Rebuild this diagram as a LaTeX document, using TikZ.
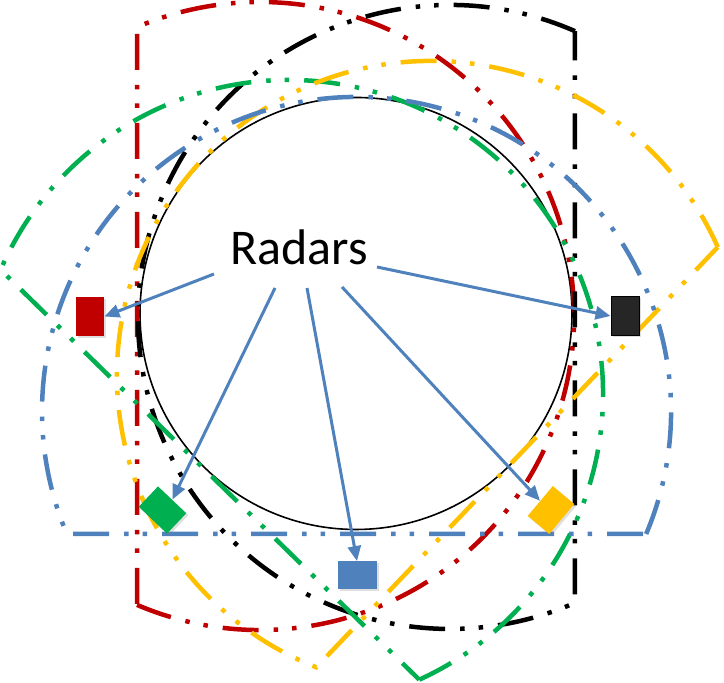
\documentclass[tikz,border=0pt]{standalone}
\usepackage{fontspec}
\newfontfamily\carlito{Carlito}
\usetikzlibrary{arrows.meta,calc,shadows}

\definecolor{radarred}{HTML}{C00000}
\definecolor{radarblack}{HTML}{262626}
\definecolor{radargreen}{HTML}{00B050}
\definecolor{radaryellow}{HTML}{FFC000}
\definecolor{radarblue}{HTML}{4F81BD}

\tikzset{
  cover/.style={line width=2.25pt, dash pattern=on 18pt off 7.5pt on 2.25pt off 7pt on 2.25pt off 7.5pt},
  radar/.style={rectangle, minimum width=14pt, minimum height=19.5pt, inner sep=0pt,
    drop shadow={shadow xshift=1pt, shadow yshift=-1pt, opacity=0.25}},
  ray/.style={draw=radarblue, line width=1.5pt, -{Triangle[length=7.5pt,width=6.5pt]}}
}

\begin{document}
\begin{tikzpicture}[x=0.5pt,y=0.5pt]
\useasboundingbox (0,0) rectangle (724,683);

% protected area
\draw[line width=0.8pt] (356,369.5) circle[radius=216];

% coverage of each radar: centre, radius, side of the cut, distance of the cut
\foreach \cx/\cy/\rad/\ang/\h/\col in {
  260/367/314/180/123/radarred,
  450/366/312/0/125/black,
  289/289/314/225.6/113/radargreen,
  431/308/314/316.3/119/radaryellow,
  356.5/271.5/314.5/270/122.5/radarblue}{
  \pgfmathsetmacro{\al}{acos(\h/\rad)}
  \draw[cover,draw=\col] ($(\cx,\cy)+(\ang+\al:\rad)$)
    arc[start angle=\ang+\al, delta angle=360-2*\al, radius=\rad] -- cycle;
}

% radars
\node[radar, fill=radarred] (red) at (90,366.5) {};
\node[radar, fill=radarblack, draw=black, line width=0.5pt, rotate=180] (black) at (625,367) {};
\node[radar, fill=radargreen, rotate=46.5] (green) at (162.5,173) {};
\node[radar, fill=radaryellow, rotate=140] (yellow) at (551,173) {};
\node[radar, fill=radarblue, rotate=90] (blue) at (357,107.5) {};

\node[font=\carlito\fontsize{25}{30}\selectfont, anchor=base, inner sep=0pt] (label) at (299,418) {Radars};

\draw[ray] ($(label.base)+(-85,-9)$) -- (red.east);
\draw[ray] ($(label.base)+(-24,-23)$) -- (green.east);
\draw[ray] ($(label.base)+(8,-23)$) -- (blue.east);
\draw[ray] ($(label.base)+(43,-22)$) -- (yellow.east);
\draw[ray] ($(label.base)+(78,-2)$) -- (black.east);

\end{tikzpicture}
\end{document}
